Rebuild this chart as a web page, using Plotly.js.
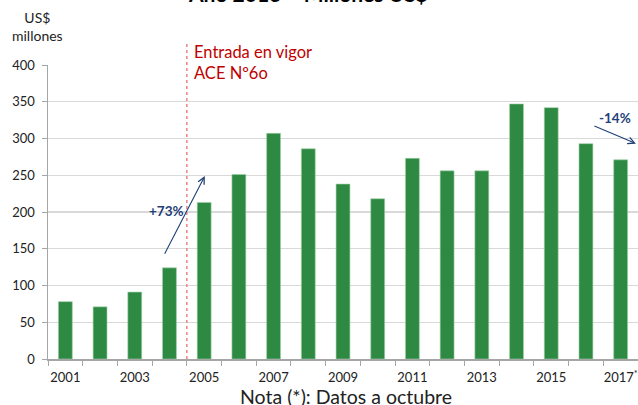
<!DOCTYPE html>
<html>
<head>
<meta charset="utf-8">
<script src="https://cdn.plot.ly/plotly-3.0.1.min.js"></script>
<style>html,body{margin:0;padding:0;background:#fff;}#chart{width:638px;height:405px;}</style>
</head>
<body>
<div id="chart"></div>
<script>
const years = [2001,2002,2003,2004,2005,2006,2007,2008,2009,2010,2011,2012,2013,2014,2015,2016,2017];
const values = [78,71,91,124,213,251,307,286,238,218,273,256,256,347,342,293,271];
const tickYears = [2001,2003,2005,2007,2009,2011,2013,2015,2017];
const tickLabels = ['2001','2003','2005','2007','2009','2011','2013','2015','2017<sup>*</sup>'];
const yTicks = [0,50,100,150,200,250,300,350,400];

const FONT = 'Lato, "Open Sans", sans-serif';
const blue = '#1f4178';

const trace = {
  type: 'bar',
  x: years,
  y: values,
  width: 0.4,
  marker: {color: '#2e8a42', line: {color: '#9fd0a8', width: 0.6}},
  hoverinfo: 'x+y'
};

const layout = {
  width: 638, height: 405,
  margin: {l: 48, r: 0, t: 65, b: 46},
  paper_bgcolor: '#fff', plot_bgcolor: '#fff',
  showlegend: false,
  font: {family: FONT, color: '#222', size: 13},
  xaxis: {
    range: [2000.5, 2017.5],
    tickmode: 'array', tickvals: tickYears, ticktext: tickLabels,
    ticks: '', showgrid: false, zeroline: false,
    showline: true, linecolor: '#a6a6a6', linewidth: 1.5,
    tickfont: {family: FONT, size: 13, color: '#222'},
    ticklabelstandoff: 6,
    minor: {tick0: 2000.5, dtick: 1, ticks: 'outside', ticklen: 5, tickcolor: '#a6a6a6', tickwidth: 1, showgrid: false},
    fixedrange: true
  },
  yaxis: {
    range: [0, 400],
    tickmode: 'array', tickvals: yTicks,
    ticks: 'outside', ticklen: 5, tickcolor: '#a6a6a6',
    showgrid: true, gridcolor: '#d9d9d9', gridwidth: 1.2,
    zeroline: false, showline: true, linecolor: '#a6a6a6', linewidth: 1.5,
    tickfont: {family: FONT, size: 13, color: '#222'},
    ticklabelstandoff: 4,
    fixedrange: true
  },
  shapes: [
    {type: 'line', xref: 'x', yref: 'paper', x0: 2004.5, x1: 2004.5, y0: 0, y1: 1.08,
     line: {color: '#ec8a8a', width: 1.6, dash: 'dot'}}
  ],
  annotations: [
    {xref: 'paper', yref: 'paper', x: 0.44, y: 1, yshift: 72, xanchor: 'center', yanchor: 'middle',
     text: '<b>Año 2016 – Millones US$</b>', showarrow: false, font: {family: FONT, size: 21, color: '#000'}},
    {xref: 'paper', yref: 'paper', x: 0, y: 1, xshift: -11, yshift: 39, xanchor: 'center', yanchor: 'middle',
     text: 'US$<br>millones', showarrow: false, align: 'center', font: {family: FONT, size: 14, color: '#222'}},
    {xref: 'x', yref: 'paper', x: 2004.5, xshift: 5, y: 1.085, xanchor: 'left', yanchor: 'top',
     text: 'Entrada en vigor<br>ACE Nº6o', showarrow: false, align: 'left',
     font: {family: FONT, size: 16.5, color: '#c00000'}},
    {xref: 'x', yref: 'y', x: 2005.02, y: 249, axref: 'x', ayref: 'y', ax: 2003.84, ay: 141,
     showarrow: true, arrowhead: 5, arrowsize: 1.2, arrowwidth: 1.1, arrowcolor: blue, text: ''},
    {xref: 'x', yref: 'y', x: 2003.9, y: 201, text: '<b>+73%</b>', showarrow: false,
     xanchor: 'center', yanchor: 'middle', font: {family: FONT, size: 13.5, color: blue}},
    {xref: 'x', yref: 'y', x: 2017.44, y: 293, axref: 'x', ayref: 'y', ax: 2016.2, ay: 318,
     showarrow: true, arrowhead: 5, arrowsize: 1.2, arrowwidth: 1.1, arrowcolor: blue, text: ''},
    {xref: 'x', yref: 'y', x: 2016.85, y: 328, text: '<b>-14%</b>', showarrow: false,
     xanchor: 'center', yanchor: 'middle', font: {family: FONT, size: 13.5, color: blue}},
    {xref: 'paper', yref: 'paper', x: 0.505, y: 0, yshift: -37, xanchor: 'center', yanchor: 'middle',
     text: 'Nota (*): Datos a octubre', showarrow: false, font: {family: FONT, size: 19.5, color: '#222'}}
  ]
};

Plotly.newPlot('chart', [trace], layout, {displayModeBar: false, staticPlot: true});
</script>
</body>
</html>
